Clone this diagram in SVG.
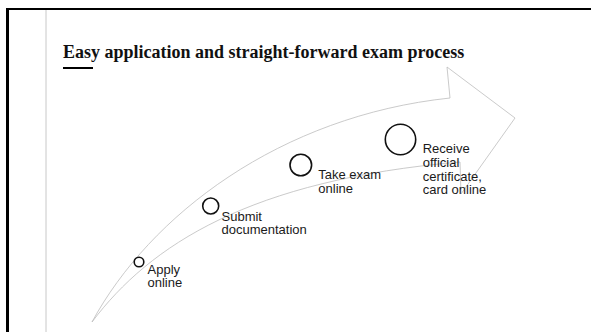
<svg xmlns="http://www.w3.org/2000/svg" width="591" height="332" viewBox="0 0 591 332">
<style>
.lbl{font-family:"Liberation Sans",Arial,sans-serif;font-size:13px;fill:#1a1a1a}
.dot{fill:none;stroke:#111;stroke-width:1.6}
.shape{fill:none;stroke:#bdbdbd;stroke-width:0.8}
</style>
<rect x="0" y="0" width="591" height="332" fill="#fff"/>
<g id="frame">
<line x1="7.5" y1="8" x2="7.5" y2="332" stroke="#000" stroke-width="3"/>
<line x1="6" y1="9" x2="591" y2="9" stroke="#000" stroke-width="2"/>
<line x1="46" y1="10" x2="46" y2="332" stroke="#c8c8c8" stroke-width="1"/>
</g>
<g id="title">
<text x="63" y="58" font-family="'Liberation Serif','Times New Roman',serif" font-size="18" font-weight="bold" fill="#111">Easy application and straight-forward exam process</text>
<line x1="63" y1="68" x2="93" y2="68" stroke="#000" stroke-width="2"/>
</g>
<g id="connectors">
<path class="shape" d="M92,322 C150,215 280,116 450,98 L447,67 L515,118 L461,194 L460,162 C250,180 150,245 92,322 Z"/>
</g>
<g id="step1">
<circle class="dot" cx="139" cy="262" r="4.8"/>
<text class="lbl" x="147.5" y="273.7">Apply<tspan x="147.5" dy="13.6">online</tspan></text>
</g>
<g id="step2">
<circle class="dot" cx="210.7" cy="206" r="8"/>
<text class="lbl" x="221.5" y="220.5">Submit<tspan x="221.5" dy="13.6">documentation</tspan></text>
</g>
<g id="step3">
<circle class="dot" cx="300.8" cy="165" r="10.8"/>
<text class="lbl" x="318.3" y="179">Take exam<tspan x="318.3" dy="13.6">online</tspan></text>
</g>
<g id="step4">
<circle class="dot" cx="400.5" cy="139.5" r="15.2"/>
<text class="lbl" x="422.7" y="152.7">Receive<tspan x="422.7" dy="14">official</tspan><tspan x="422.7" dy="14">certificate,</tspan><tspan x="422.7" dy="13.6">card online</tspan></text>
</g>
</svg>
